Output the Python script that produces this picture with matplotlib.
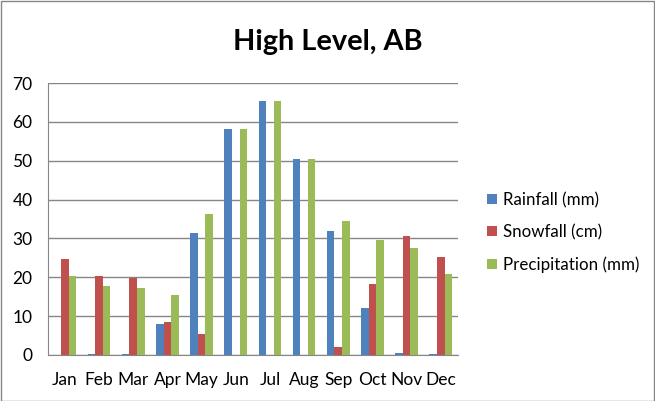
import numpy as np
import matplotlib.pyplot as plt
from matplotlib.patches import Rectangle

plt.rcParams['font.family'] = ['Lato', 'DejaVu Sans']

months = ['Jan', 'Feb', 'Mar', 'Apr', 'May', 'Jun', 'Jul', 'Aug', 'Sep', 'Oct', 'Nov', 'Dec']
rainfall = [0.0, 0.3, 0.3, 8.0, 31.3, 58.2, 65.4, 50.4, 32.0, 12.1, 0.5, 0.3]
snowfall = [24.7, 20.4, 19.9, 8.5, 5.3, 0.0, 0.0, 0.0, 2.1, 18.2, 30.6, 25.2]
precipitation = [20.2, 17.8, 17.3, 15.5, 36.2, 58.2, 65.4, 50.4, 34.4, 29.6, 27.5, 20.9]

series = [
    ('Rainfall (mm)', rainfall, '#4F81BD'),
    ('Snowfall (cm)', snowfall, '#C0504D'),
    ('Precipitation (mm)', precipitation, '#9BBB59'),
]

fig = plt.figure(figsize=(6.55, 4.01), dpi=100)
ax = fig.add_axes([0.073, 0.115, 0.626, 0.678])

x = np.arange(len(months))
w = 1 / 4.5
for i, (name, vals, color) in enumerate(series):
    ax.bar(x + (i - 1) * w, vals, width=w, color=color, label=name, zorder=3)

ax.set_xlim(-0.5, len(months) - 0.5)
ax.set_ylim(0, 70)
ax.set_yticks(range(0, 71, 10))
ax.set_xticks(x)
ax.set_xticklabels(months)
ax.tick_params(axis='both', length=0, labelsize=12.5, colors='black')
ax.tick_params(axis='x', pad=12)
ax.tick_params(axis='y', pad=11)
ax.grid(axis='y', color='#868686', linewidth=1, zorder=0)

for side in ['top', 'right']:
    ax.spines[side].set_visible(False)
ax.spines['left'].set_color('#868686')
ax.spines['bottom'].set_color('#868686')

fig.text(0.501, 0.895, 'High Level, AB', ha='center', va='center',
         fontsize=20.8, fontweight='bold')

ax.legend(loc='center left', bbox_to_anchor=(1.035, 0.45), frameon=False,
          fontsize=12.2, handlelength=0.55, handleheight=0.55,
          handletextpad=0.35, labelspacing=0.95)

fig.patches.append(Rectangle((0.001, 0.001), 0.997, 0.997, transform=fig.transFigure,
                             fill=False, edgecolor='#868686', linewidth=1))

fig.savefig('out.png', dpi=100)
